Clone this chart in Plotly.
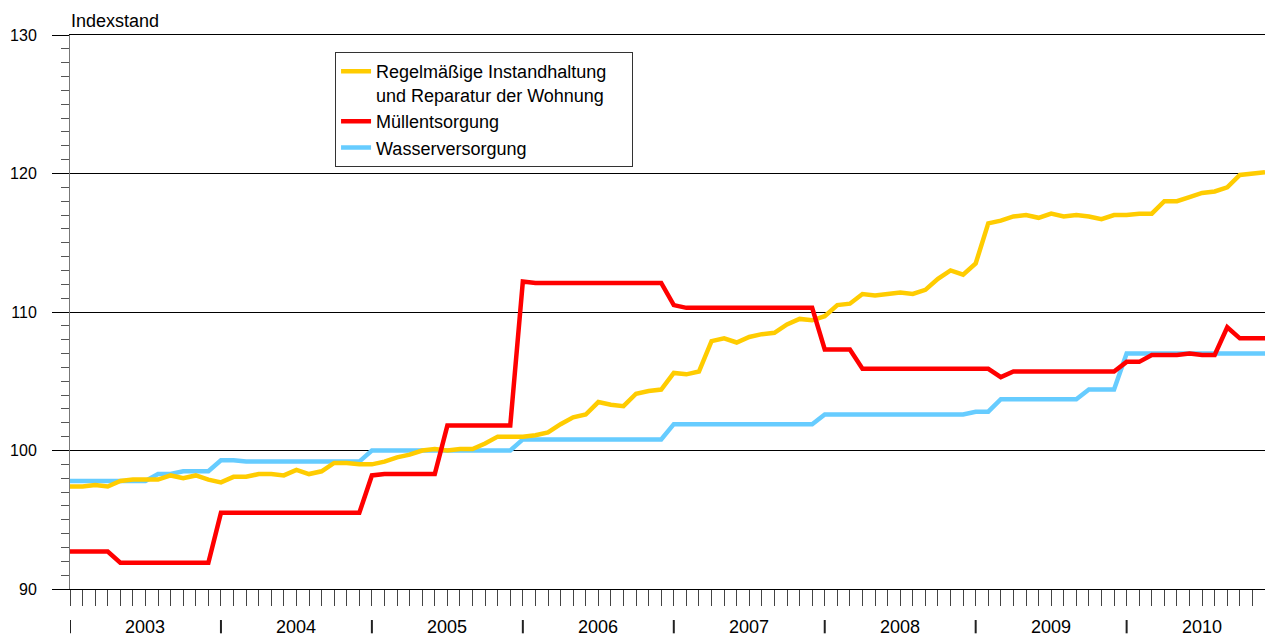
import plotly.graph_objects as go

years = list(range(2003, 2011))
months = [f"{y}-{m:02d}" for y in years for m in range(1, 13)]

instandhaltung = [
    97.4, 97.4, 97.5, 97.4, 97.8, 97.9, 97.9, 97.9, 98.2, 98.0, 98.2, 97.9,
    97.7, 98.1, 98.1, 98.3, 98.3, 98.2, 98.6, 98.3, 98.5, 99.1, 99.1, 99.0,
    99.0, 99.2, 99.5, 99.7, 100.0, 100.1, 100.0, 100.1, 100.1, 100.5, 101.0, 101.0,
    101.0, 101.1, 101.3, 101.9, 102.4, 102.6, 103.5, 103.3, 103.2, 104.1, 104.3, 104.4,
    105.6, 105.5, 105.7, 107.9, 108.1, 107.8, 108.2, 108.4, 108.5, 109.1, 109.5, 109.4,
    109.7, 110.5, 110.6, 111.3, 111.2, 111.3, 111.4, 111.3, 111.6, 112.4, 113.0, 112.7,
    113.5, 116.4, 116.6, 116.9, 117.0, 116.8, 117.1, 116.9, 117.0, 116.9, 116.7, 117.0,
    117.0, 117.1, 117.1, 118.0, 118.0, 118.3, 118.6, 118.7, 119.0, 119.9, 120.0, 120.1,
]

muell = [
    92.7, 92.7, 92.7, 92.7, 91.9, 91.9, 91.9, 91.9, 91.9, 91.9, 91.9, 91.9,
    95.5, 95.5, 95.5, 95.5, 95.5, 95.5, 95.5, 95.5, 95.5, 95.5, 95.5, 95.5,
    98.2, 98.3, 98.3, 98.3, 98.3, 98.3, 101.8, 101.8, 101.8, 101.8, 101.8, 101.8,
    112.2, 112.1, 112.1, 112.1, 112.1, 112.1, 112.1, 112.1, 112.1, 112.1, 112.1, 112.1,
    110.5, 110.3, 110.3, 110.3, 110.3, 110.3, 110.3, 110.3, 110.3, 110.3, 110.3, 110.3,
    107.3, 107.3, 107.3, 105.9, 105.9, 105.9, 105.9, 105.9, 105.9, 105.9, 105.9, 105.9,
    105.9, 105.9, 105.3, 105.7, 105.7, 105.7, 105.7, 105.7, 105.7, 105.7, 105.7, 105.7,
    106.4, 106.4, 106.9, 106.9, 106.9, 107.0, 106.9, 106.9, 108.9, 108.1, 108.1, 108.1,
]

wasser = [
    97.8, 97.8, 97.8, 97.8, 97.8, 97.8, 97.8, 98.3, 98.3, 98.5, 98.5, 98.5,
    99.3, 99.3, 99.2, 99.2, 99.2, 99.2, 99.2, 99.2, 99.2, 99.2, 99.2, 99.2,
    100.0, 100.0, 100.0, 100.0, 100.0, 100.0, 100.0, 100.0, 100.0, 100.0, 100.0, 100.0,
    100.8, 100.8, 100.8, 100.8, 100.8, 100.8, 100.8, 100.8, 100.8, 100.8, 100.8, 100.8,
    101.9, 101.9, 101.9, 101.9, 101.9, 101.9, 101.9, 101.9, 101.9, 101.9, 101.9, 101.9,
    102.6, 102.6, 102.6, 102.6, 102.6, 102.6, 102.6, 102.6, 102.6, 102.6, 102.6, 102.6,
    102.8, 102.8, 103.7, 103.7, 103.7, 103.7, 103.7, 103.7, 103.7, 104.4, 104.4, 104.4,
    107.0, 107.0, 107.0, 107.0, 107.0, 107.0, 107.0, 107.0, 107.0, 107.0, 107.0, 107.0,
]

series_names = [
    "Regelmäßige Instandhaltung\u00a0\u00a0\u00a0\u00a0<br>und Reparatur der Wohnung",
    "Müllentsorgung",
    "Wasserversorgung",
]
year_labels = [str(y) for y in years]

FONT = "Arial, 'Liberation Sans', sans-serif"
xi = list(range(len(months)))

fig = go.Figure()
fig.add_trace(go.Scatter(x=xi, y=wasser, mode="lines", name=series_names[2],
                         line=dict(color="#66CCFF", width=4.5), legendrank=3))
fig.add_trace(go.Scatter(x=xi, y=instandhaltung, mode="lines", name=series_names[0],
                         line=dict(color="#FFCC00", width=4.5), legendrank=1))
fig.add_trace(go.Scatter(x=xi, y=muell, mode="lines", name=series_names[1],
                         line=dict(color="#FF0000", width=4.5), legendrank=2))

# year separators and labels
for k, yl in enumerate(year_labels):
    start = months.index(f"{yl}-01")
    fig.add_shape(type="line", xref="x", yref="paper", x0=start, x1=start,
                  y0=-0.056, y1=-0.08, line=dict(color="#222222", width=2))
    fig.add_annotation(x=start + 6, y=-0.068, xref="x", yref="paper", text=yl,
                       showarrow=False, font=dict(size=18, color="#000", family=FONT),
                       xanchor="center", yanchor="middle")

fig.add_annotation(x=0, y=1.0, xref="paper", yref="paper", text="Indexstand",
                   showarrow=False, xanchor="left", yanchor="bottom", yshift=3,
                   borderpad=0,
                   font=dict(size=18, color="#000", family=FONT))

fig.update_layout(
    width=1273, height=638,
    margin=dict(l=62, r=16, t=27, b=57, autoexpand=False),
    paper_bgcolor="white", plot_bgcolor="white",
    font=dict(family=FONT, size=17, color="#000"),
    showlegend=True,
    legend=dict(x=0.2218, y=0.969, xanchor="left", yanchor="top",
                bgcolor="white", bordercolor="#333333", borderwidth=1,
                font=dict(size=18, family=FONT, color="#000"),
                itemwidth=30, tracegroupgap=0, valign="top"),
    xaxis=dict(range=[0, len(months) - 1], tickmode="array", tickvals=xi,
               showticklabels=False, ticks="outside", ticklen=16, tickcolor="#444",
               tickwidth=1, showgrid=False, zeroline=False, showline=True,
               linecolor="#000", linewidth=1, mirror=True, automargin=False),
    yaxis=dict(range=[90, 130], tickmode="linear", tick0=90, dtick=10,
               ticks="outside", ticklen=17, tickcolor="#000", tickwidth=1,
               showgrid=True, gridcolor="#000", gridwidth=1, zeroline=False,
               showline=True, linecolor="#777", linewidth=1, mirror=True,
               ticklabelstandoff=12, automargin=False,
               tickfont=dict(size=16, family=FONT, color="#000"),
               minor=dict(dtick=1, ticks="outside", ticklen=8, tickcolor="#555",
                          showgrid=False)),
)

fig.write_html("out.html")
